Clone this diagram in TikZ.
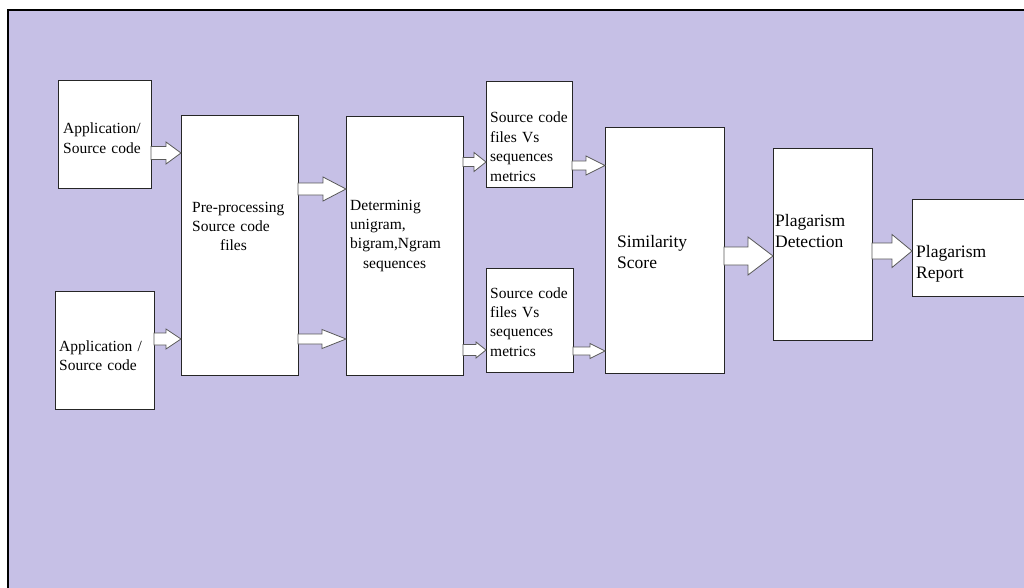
\documentclass[tikz,border=0pt]{standalone}
\usepackage{fontspec}
\setmainfont{Liberation Serif}
\usetikzlibrary{calc}
\definecolor{lavender}{RGB}{198,192,230}

\begin{document}
\begin{tikzpicture}[x=1pt,y=-1pt]
    \tikzstyle{box}=[rectangle,draw=black!85,line width=0.8pt,fill=white,inner sep=0pt,outer sep=0pt,anchor=north west]
    \tikzstyle{txt}=[inner sep=0pt,anchor=base west,align=left,text width=120pt,font=\fontsize{15.5}{19.4}\selectfont]
    \tikzstyle{bigtxt}=[txt,font=\fontsize{17.5}{21}\selectfont]
    \tikzstyle{barrow}=[draw=black!65,fill=white,line width=0.8pt,line join=miter]

    \useasboundingbox (0,0) rectangle (1024,588);
    \clip (0,0) rectangle (1024,588);
    \draw[line width=2pt,fill=lavender] (8,10) rectangle (1040,600);

    % boxes
    \foreach \name/\x/\y/\w/\h in {app1/58/80/93/108, app2/55/291/99/118, pre/181/115/117/260,
            det/346/116/117/259, sc1/486/81/86/106, sc2/486/268/87/104,
            sim/605/127/119/246, pd/773/148/99/192, pr/912/199/130/97}
        \node[box,minimum width=\w,minimum height=\h] (\name) at (\x,\y) {};

    % texts
    \node[txt] (app1-t) at (63,134) {Application/\\Source code};
    \node[txt] (app2-t) at (59,351) {Application /\\Source code};
    \node[txt] (pre-t) at (192,212) {Pre-processing\\Source code\\\hspace*{28pt}files};
    \node[txt] (det-t) at (350,210) {Determinig\\unigram,\\bigram,Ngram\\\hspace*{13pt}sequences};
    \node[txt] (sc1-t) at (490,123) {Source code\\files Vs\\sequences\\metrics};
    \node[txt] (sc2-t) at (490,298) {Source code\\files Vs\\sequences\\metrics};
    \node[bigtxt] (sim-t) at (617,247) {Similarity\\Score};
    \node[bigtxt] (pd-t) at (775,226) {Plagarism\\Detection};
    \node[bigtxt] (pr-t) at (916,257) {Plagarism\\Report};

    % block arrows
    \foreach \from/\to/\ay/\sw/\hw/\hl in {app1/pre/153/6.5/11/15, app2/pre/339/6/10/15,
            pre/det/189/6/12/23, pre/det/339/5/9.5/24, det/sc1/162/4.5/9.5/12,
            det/sc2/350/5.5/8/10, sc1/sim/165.5/4.5/9.5/19, sc2/sim/351/4/7.5/15,
            sim/pd/256/9/19/25, pd/pr/251/8/16.5/20}
        \draw[barrow] let \p1=(\from.east), \p2=(\to.west), \p3=(0,\ay) in
            (\x1,\y3+\sw pt) -- (\x2-\hl pt,\y3+\sw pt) -- (\x2-\hl pt,\y3+\hw pt) -- (\x2,\y3)
            -- (\x2-\hl pt,\y3-\hw pt) -- (\x2-\hl pt,\y3-\sw pt) -- (\x1,\y3-\sw pt) -- cycle;
\end{tikzpicture}
\end{document}
